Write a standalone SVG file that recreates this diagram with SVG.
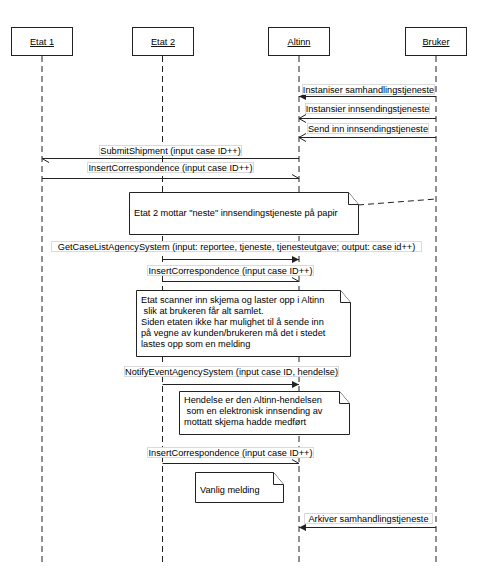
<svg xmlns="http://www.w3.org/2000/svg" width="481" height="587" viewBox="0 0 481 587">
<style>
text{font-family:"Liberation Sans",Arial,sans-serif;font-size:9.2px;fill:#000}
.head rect{fill:#fff;stroke:#222;stroke-width:1}
.head text{text-anchor:middle;text-decoration:underline}
.life{stroke:#222;stroke-width:1;stroke-dasharray:6,4;fill:none}
.msg{stroke:#222;stroke-width:1;fill:none}
.lbl{fill:#fff;stroke:#dadada;stroke-width:1}
.note path{fill:#fff;stroke:#222;stroke-width:1}
.anchor{stroke:#222;stroke-width:1;stroke-dasharray:6,4;fill:none}
.c{text-anchor:middle}
</style>
<defs>
<marker id="filled" markerUnits="userSpaceOnUse" markerWidth="8" markerHeight="8" refX="7" refY="3.5" orient="auto" overflow="visible">
<path d="M0,0 L7,3.5 L0,7 z" fill="#222"/>
</marker>
<marker id="open" markerUnits="userSpaceOnUse" markerWidth="8" markerHeight="10" refX="7" refY="4" orient="auto" overflow="visible">
<path d="M0,0 L7,4 L0,8" fill="none" stroke="#222" stroke-width="1"/>
</marker>
<marker id="half" markerUnits="userSpaceOnUse" markerWidth="8" markerHeight="6" refX="7" refY="4" orient="auto" overflow="visible">
<path d="M0,0 L7,4" fill="none" stroke="#222" stroke-width="1"/>
</marker>
</defs>
<rect width="481" height="587" fill="#fff"/>

<g id="etat1" class="head"><rect x="11.5" y="27.5" width="61" height="28"/><text x="42" y="45">Etat 1</text></g>
<g id="etat2" class="head"><rect x="132.5" y="27.5" width="61" height="28"/><text x="163" y="45">Etat 2</text></g>
<g id="altinn" class="head"><rect x="268.5" y="27.5" width="61" height="28"/><text x="299" y="45">Altinn</text></g>
<g id="bruker" class="head"><rect x="405.5" y="27.5" width="61" height="28"/><text x="436" y="45">Bruker</text></g>

<g id="lifelines">
<line class="life" x1="42" y1="56" x2="42" y2="563"/>
<line class="life" x1="162.5" y1="56" x2="162.5" y2="563"/>
<line class="life" x1="299" y1="56" x2="299" y2="563"/>
<line class="life" x1="436" y1="56" x2="436" y2="563"/>
</g>

<g id="connectors">
<line class="msg" x1="436" y1="96.5" x2="299" y2="96.5" marker-end="url(#filled)"/>
<line class="msg" x1="436" y1="118.5" x2="299" y2="118.5" marker-end="url(#open)"/>
<line class="msg" x1="436" y1="137.5" x2="299" y2="137.5" marker-end="url(#open)"/>
<line class="msg" x1="299" y1="158.5" x2="42" y2="158.5" marker-end="url(#half)"/>
<line class="msg" x1="42" y1="178.5" x2="299" y2="178.5" marker-end="url(#half)"/>
<line class="msg" x1="162.5" y1="259.5" x2="299" y2="259.5" marker-end="url(#filled)"/>
<line class="msg" x1="162.5" y1="281.5" x2="299" y2="281.5" marker-end="url(#half)"/>
<line class="msg" x1="162.5" y1="384.5" x2="299" y2="384.5" marker-end="url(#filled)"/>
<line class="msg" x1="162.5" y1="463.5" x2="299" y2="463.5" marker-end="url(#half)"/>
<line class="msg" x1="436" y1="527.5" x2="299" y2="527.5" marker-end="url(#filled)"/>
<line class="anchor" x1="358" y1="205" x2="436" y2="199"/>

<rect class="lbl" x="302.5" y="84.5" width="132" height="10"/>
<text x="368.5" y="92.5" class="c">Instaniser samhandlingstjeneste</text>
<rect class="lbl" x="305.5" y="103.5" width="124" height="10"/>
<text x="367.5" y="111.5" class="c">Instansier innsendingstjeneste</text>
<rect class="lbl" x="307.5" y="123.5" width="121" height="10"/>
<text x="368" y="131.5" class="c">Send inn innsendingstjeneste</text>
<rect class="lbl" x="99.5" y="145.5" width="142" height="10"/>
<text x="170.5" y="153.5" class="c">SubmitShipment (input case ID++)</text>
<rect class="lbl" x="87.5" y="162.5" width="166" height="10"/>
<text x="170.5" y="170.5" class="c">InsertCorrespondence (input case ID++)</text>
<rect class="lbl" x="51.5" y="241.5" width="370" height="10"/>
<text x="236.5" y="249.5" class="c">GetCaseListAgencySystem (input: reportee, tjeneste, tjenesteutgave; output: case id++)</text>
<rect class="lbl" x="147.5" y="265.5" width="166" height="10"/>
<text x="230.5" y="273.5" class="c">InsertCorrespondence (input case ID++)</text>
<rect class="lbl" x="124.5" y="366.5" width="214" height="10"/>
<text x="231.5" y="374.5" class="c">NotifyEventAgencySystem (input case ID, hendelse)</text>
<rect class="lbl" x="147.5" y="447.5" width="166" height="10"/>
<text x="230.5" y="455.5" class="c">InsertCorrespondence (input case ID++)</text>
<rect class="lbl" x="304.5" y="513.5" width="128" height="10"/>
<text x="368.5" y="521.5" class="c">Arkiver samhandlingstjeneste</text>
</g>

<g id="note1" class="note">
<path d="M129.5,192.5 H348.5 L358.5,204.5 V234.5 H129.5 Z"/>
<path d="M348.5,192.5 V204.5 H358.5"/>
<text x="134" y="216">Etat 2 mottar "neste" innsendingstjeneste på papir</text>
</g>
<g id="note2" class="note">
<path d="M136.5,290.5 H340.5 L350.5,302.5 V356.5 H136.5 Z"/>
<path d="M340.5,290.5 V302.5 H350.5"/>
<text x="141" y="303">Etat scanner inn skjema og laster opp i Altinn</text>
<text x="141" y="314" xml:space="preserve"> slik at brukeren får alt samlet.</text>
<text x="141" y="325">Siden etaten ikke har mulighet til å sende inn</text>
<text x="141" y="336">på vegne av kunden/brukeren må det i stedet</text>
<text x="141" y="347">lastes opp som en melding</text>
</g>
<g id="note3" class="note">
<path d="M179.5,391.5 H339.5 L349.5,403.5 V434.5 H179.5 Z"/>
<path d="M339.5,391.5 V403.5 H349.5"/>
<text x="184" y="403">Hendelse er den Altinn-hendelsen</text>
<text x="184" y="414" xml:space="preserve"> som en elektronisk innsending av</text>
<text x="184" y="425">mottatt skjema hadde medført</text>
</g>
<g id="note4" class="note">
<path d="M195.5,472.5 H273.5 L283.5,484.5 V502.5 H195.5 Z"/>
<path d="M273.5,472.5 V484.5 H283.5"/>
<text x="200" y="493">Vanlig melding</text>
</g>
</svg>
